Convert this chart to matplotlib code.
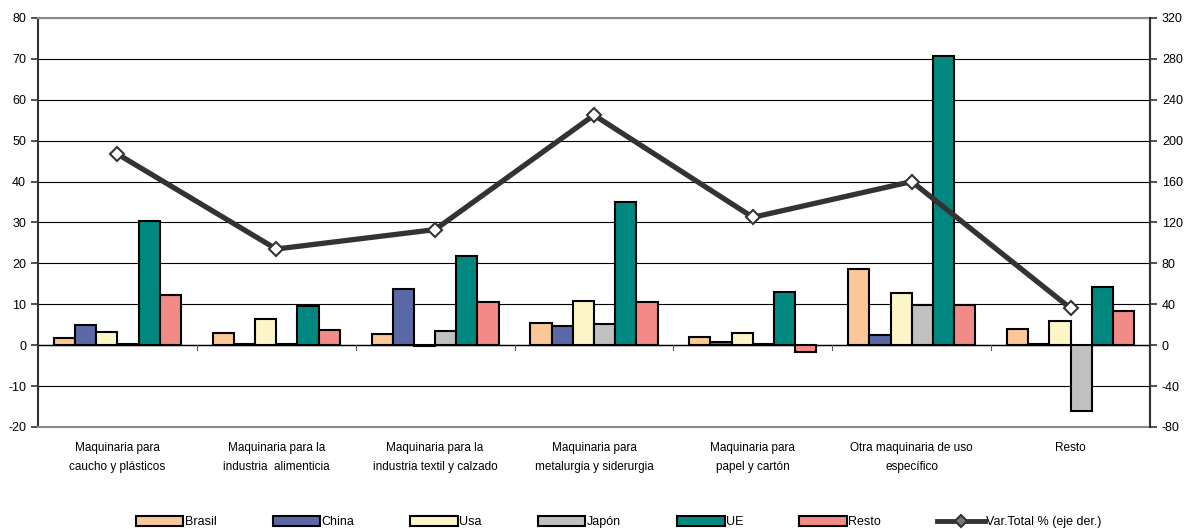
import matplotlib
matplotlib.use('Agg')
import matplotlib.pyplot as plt
import numpy as np
from matplotlib.lines import Line2D
from matplotlib.patches import Patch

plt.rcParams['font.family'] = ['Liberation Sans Narrow', 'Liberation Sans', 'DejaVu Sans']
plt.rcParams['axes.unicode_minus'] = False

categories = ['Maquinaria para\ncaucho y plásticos',
              'Maquinaria para la\nindustria  alimenticia',
              'Maquinaria para la\nindustria textil y calzado',
              'Maquinaria para\nmetalurgia y siderurgia',
              'Maquinaria para\npapel y cartón',
              'Otra maquinaria de uso\nespecífico',
              'Resto']

brasil = [1.7, 2.9, 2.8, 5.4, 2.1, 18.6, 3.9]
china = [5.0, 0.2, 13.7, 4.7, 0.7, 2.5, 0.2]
usa = [3.3, 6.3, -0.3, 10.8, 2.9, 12.8, 6.0]
japon = [0.3, 0.3, 3.5, 5.2, 0.3, 9.8, -16.2]
ue = [30.4, 9.6, 21.8, 35.0, 12.9, 70.6, 14.1]
resto = [12.2, 3.7, 10.5, 10.6, -1.6, 9.8, 8.3]
var_total = [187, 94, 113, 225, 125, 160, 36]

series = [('Brasil', brasil, '#FAC898'),
          ('China', china, '#5A69A5'),
          ('Usa', usa, '#FBF5C8'),
          ('Japón', japon, '#C0C0C0'),
          ('UE', ue, '#00877F'),
          ('Resto', resto, '#F28A87')]

fig = plt.figure(figsize=(11.85, 5.29), dpi=100)
ax = fig.add_axes([0.032, 0.193, 0.9385, 0.773])

x = np.arange(len(categories))
bw = 1 / 7.5
for i, (name, vals, col) in enumerate(series):
    ax.bar(x + (i - 2.5) * bw, vals, bw, color=col, edgecolor='black',
           linewidth=1.5, zorder=3)

ax.set_xlim(-0.5, len(categories) - 0.5)
ax.set_ylim(-20, 80)
ax.set_yticks(range(-20, 81, 10))
ax.grid(axis='y', color='black', linewidth=0.8, zorder=0)
ax.axhline(0, color='black', linewidth=1.0, zorder=2)
for b in np.arange(0.5, len(categories) - 0.5, 1):
    ax.plot([b, b], [0, -1.2], color='#555555', linewidth=0.8, zorder=2)

ax.set_xticks(x)
ax.set_xticklabels(categories, fontsize=8.5, linespacing=1.75)
ax.tick_params(axis='x', length=0, pad=11)
ax.tick_params(axis='y', labelsize=9, length=5, width=1.2, color='#333333')

for s in ['top', 'bottom']:
    ax.spines[s].set_color('#8a8a8a')
    ax.spines[s].set_linewidth(1.5)
ax.spines['left'].set_color('#333333')
ax.spines['left'].set_linewidth(1.5)
ax.spines['right'].set_color('#333333')
ax.spines['right'].set_linewidth(1.5)

ax2 = ax.twinx()
ax2.plot(x, var_total, color='#333333', linewidth=3.8, marker='D',
         markersize=7, markerfacecolor='white', markeredgecolor='#333333',
         markeredgewidth=1.5, zorder=5)
ax2.set_ylim(-80, 320)
ax2.set_yticks(range(-80, 321, 40))
ax2.tick_params(axis='y', labelsize=9, length=5, width=1.2, color='#333333')
for s in ['top', 'bottom', 'left']:
    ax2.spines[s].set_visible(False)
ax2.spines['right'].set_color('#333333')
ax2.spines['right'].set_linewidth(1.5)

handles = [Patch(facecolor=col, edgecolor='black', linewidth=1.5, label=name)
           for name, vals, col in series]
handles.append(Line2D([0], [0], color='#333333', linewidth=3.5, marker='D',
                      markersize=6, markerfacecolor='#777777',
                      markeredgecolor='#333333', markeredgewidth=1.5,
                      label='Var.Total % (eje der.)'))
fig.legend(handles=handles, loc='lower center', bbox_to_anchor=(0.522, -0.02),
           ncol=7, frameon=False, fontsize=9, handlelength=3.8,
           handleheight=0.85, handletextpad=0.1, columnspacing=4.5)

fig.savefig('out.png', dpi=100)
